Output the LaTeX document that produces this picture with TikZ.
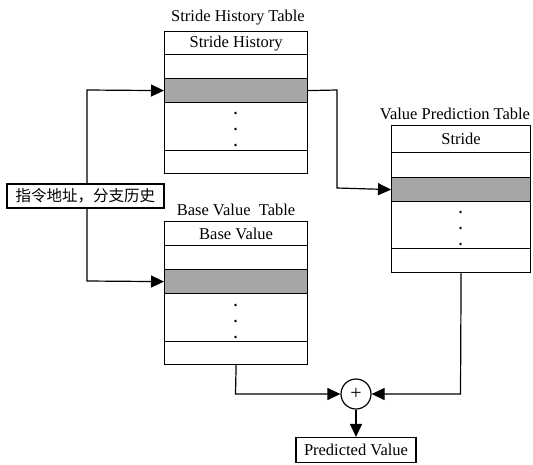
\documentclass[tikz,border=0pt]{standalone}
\usepackage{fontspec}
\setmainfont{Liberation Serif}
\newfontfamily\cjk{Noto Sans CJK SC}
\usetikzlibrary{arrows.meta}
\begin{document}
\begin{tikzpicture}[x=1pt,y=-1pt,
  lw/.style={line width=1.2pt},
  row/.style={draw, lw, inner sep=0pt, anchor=north west, font=\fontsize{16.5}{19}\selectfont},
  grayrow/.style={row, fill=black!35},
  ttl/.style={inner sep=0pt, font=\fontsize{16.5}{19}\selectfont},
  conn/.style={lw, -{Triangle[length=13pt,width=12pt]}},
  dot/.style={fill=black}
]
\useasboundingbox (0,0) rectangle (533,464);

% Stride History Table
\node[ttl] (t1) at (238,18) {Stride History Table};
\node[row, minimum width=143pt, minimum height=23pt] (s1) at (164,31) {Stride History};
\node[row, minimum width=143pt, minimum height=24pt] (s2) at (164,54) {};
\node[grayrow, minimum width=143pt, minimum height=24pt] (s3) at (164,78) {};
\node[row, minimum width=143pt, minimum height=48pt] (s4) at (164,102) {};
\node[row, minimum width=143pt, minimum height=23pt] (s5) at (164,150) {};
\fill[dot] (235.5,113) circle (1.3pt) (235.5,129) circle (1.3pt) (235.5,145) circle (1.3pt);

% Base Value Table
\node[ttl] (t2) at (236,210) {Base Value\ \ Table};
\node[row, minimum width=143pt, minimum height=24pt] (b1) at (164,221) {Base Value};
\node[row, minimum width=143pt, minimum height=24pt] (b2) at (164,245) {};
\node[grayrow, minimum width=143pt, minimum height=24pt] (b3) at (164,269) {};
\node[row, minimum width=143pt, minimum height=48pt] (b4) at (164,293) {};
\node[row, minimum width=143pt, minimum height=23pt] (b5) at (164,341) {};
\fill[dot] (235.5,305) circle (1.3pt) (235.5,321) circle (1.3pt) (235.5,337) circle (1.3pt);

% Value Prediction Table
\node[ttl] (t3) at (455,114) {Value Prediction Table};
\node[row, minimum width=139pt, minimum height=27pt] (v1) at (391,125) {Stride};
\node[row, minimum width=139pt, minimum height=25pt] (v2) at (391,152) {};
\node[grayrow, minimum width=139pt, minimum height=24pt] (v3) at (391,177) {};
\node[row, minimum width=139pt, minimum height=47pt] (v4) at (391,201) {};
\node[row, minimum width=139pt, minimum height=24pt] (v5) at (391,248) {};
\fill[dot] (460.5,212) circle (1.3pt) (460.5,228) circle (1.3pt) (460.5,244) circle (1.3pt);

% input label
\node[draw, lw, inner sep=0pt, minimum width=157pt, minimum height=24pt, font=\cjk\fontsize{15.5}{18}\selectfont] (in) at (85.5,196) {指令地址，分支历史};

% adder and output
\node[draw, lw, circle, minimum size=30pt, inner sep=0pt, font=\fontsize{20}{22}\selectfont] (add) at (356,394) {+};
\node[draw, lw, inner sep=0pt, minimum width=120pt, minimum height=25pt, font=\fontsize{16.5}{19}\selectfont] (out) at (356,450) {Predicted Value};

% connectors
\coordinate (c1) at (87,90);
\coordinate (c2) at (87,281);
\coordinate (c3) at (337,90);
\coordinate (c4) at (337,188);
\coordinate (c5) at (235.5,394);
\coordinate (c6) at (460.5,394);
\draw[conn] (in.north -| c1) -- (c1) -- (s3.west);
\draw[conn] (in.south -| c2) -- (c2) -- (b3.west);
\draw[conn] (s3.east) -- (c3) -- (c4) -- (v3.west);
\draw[conn] (b5.south) -- (c5) -- (add.west);
\draw[conn] (v5.south) -- (c6) -- (add.east);
\draw[conn] (add.south) -- (out.north);
\end{tikzpicture}
\end{document}
